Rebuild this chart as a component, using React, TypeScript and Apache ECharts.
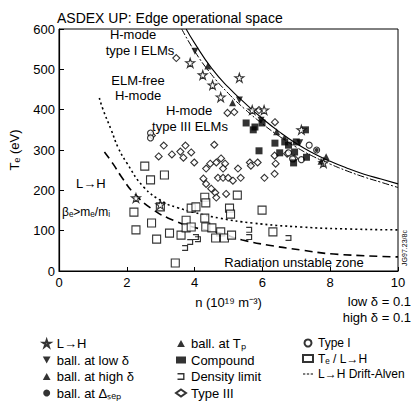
import React, { useEffect, useRef } from "react";
import * as echarts from "echarts";

// ---- data ----
const xTicks = [0, 2, 4, 6, 8, 10];
const yTicks = [0, 100, 200, 300, 400, 500, 600];

const boundaryOuter: [number, number][] = [
  [3.75, 600], [4.0, 565], [4.5, 503], [5.0, 455], [5.5, 415], [6.0, 378], [6.5, 345],
  [7.0, 316], [7.5, 292], [8.0, 272], [8.5, 255], [9.0, 240], [9.5, 228], [10.0, 216],
];
const boundaryInner: [number, number][] = [
  [3.62, 600], [4.0, 545], [4.5, 487], [5.0, 440], [5.5, 400], [6.0, 365], [6.5, 334],
  [7.0, 307], [7.5, 284], [8.0, 265], [8.5, 248], [9.0, 233], [9.5, 220], [10.0, 207],
];
const driftAlfven: [number, number][] = [
  [1.19, 429], [1.3, 400], [1.54, 350], [1.75, 305], [2.0, 268], [2.5, 208], [3.08, 171],
  [3.5, 157], [3.95, 146], [4.74, 131], [5.7, 119], [7.15, 109], [8.6, 104], [10, 102],
];
const betaLimit: [number, number][] = [
  [1.34, 295], [1.6, 265], [1.83, 235], [2.21, 193], [2.79, 151], [3.37, 126], [3.95, 109],
  [4.74, 94], [5.41, 77], [6.19, 64], [7.15, 52], [8.11, 42], [10, 35],
];

const lhPoints: [number, number][] = [
  [3.87, 516], [4.24, 486], [4.53, 461], [4.77, 431], [5.32, 479], [5.7, 399], [6.05, 399],
  [7.15, 350], [2.27, 181], [2.99, 164], [7.8, 268],
];
const ballLowDelta: [number, number][] = [[4.01, 545], [5.32, 424], [5.96, 374], [7.1, 318]];
const ballHighDelta: [number, number][] = [[4.39, 508], [6.42, 345], [7.88, 283]];
const ballSep: [number, number][] = [[6.65, 330], [7.6, 300]];
const ballTp: [number, number][] = [[5.12, 417], [7.73, 272]];
const compound: [number, number][] = [
  [5.52, 367], [5.73, 350], [5.78, 357], [6.37, 317], [6.77, 312], [7.0, 320], [7.27, 350],
  [5.9, 298], [6.51, 293], [6.92, 268], [6.95, 295], [5.99, 367], [6.66, 320], [7.3, 282],
];
const densityLimit: [number, number][] = [
  [3.72, 57], [4.04, 84], [3.87, 72], [5.61, 102], [5.61, 84], [6.77, 82], [4.1, 79],
];
const typeIII: [number, number][] = [
  [2.74, 336], [3.09, 311], [2.94, 284], [3.33, 289], [3.58, 296], [3.73, 311], [3.67, 281],
  [3.9, 294], [3.99, 269], [4.58, 313], [4.46, 266], [4.64, 269], [4.78, 279], [4.9, 266],
  [4.84, 254], [4.34, 254], [4.26, 229], [4.34, 216], [4.49, 204], [4.61, 194], [4.69, 231],
  [4.84, 231], [4.99, 231], [5.13, 224], [5.28, 254], [5.36, 231], [4.64, 182], [4.93, 191],
  [5.63, 269], [5.86, 269], [5.66, 261], [6.06, 231], [6.36, 241], [6.39, 266], [6.36, 286],
  [6.73, 291], [6.94, 279], [3.46, 528], [4.97, 392], [5.17, 394], [5.9, 399], [6.37, 369],
];
const typeI: [number, number][] = [
  [2.7, 342], [2.7, 330], [6.77, 293], [7.38, 312], [6.89, 278], [7.15, 276], [7.6, 300],
];
const teLH: [number, number][] = [
  [2.53, 260], [2.7, 226], [3.11, 238], [2.21, 146], [2.27, 102], [2.73, 119], [2.99, 159],
  [2.88, 79], [3.26, 94], [3.6, 89], [3.75, 126], [3.75, 107], [3.9, 109], [3.9, 156],
  [4.04, 159], [4.3, 183], [4.33, 169], [4.3, 131], [4.33, 109], [4.51, 107], [4.77, 97],
  [4.62, 82], [4.88, 82], [5.09, 89], [5.03, 156], [5.06, 141], [5.26, 188], [5.99, 151],
  [6.31, 97], [3.43, 20],
];

const legendCol1 = ["L→H", "ball. at low δ", "ball. at high δ", "ball. at Δₛₑₚ"];
const legendCol2 = ["ball. at Tₚ", "Compound", "Density limit", "Type III"];
const legendCol3 = ["Type I", "Tₑ / L→H", "L→H Drift-Alven"];

const FONT = "'Liberation Sans', Arial, sans-serif";

const STAR = "path://M5,0 L6.2,3.6 L10,3.6 L6.9,5.8 L8.1,9.5 L5,7.2 L1.9,9.5 L3.1,5.8 L0,3.6 L3.8,3.6 Z";
const DOWN = "path://M0,0 L10,0 L5,9 Z";
const UP = "path://M5,0 L10,9 L0,9 Z";
const BRACKET = "path://M0,0 L10,0 L10,10 L0,10 L0,8 L8,8 L8,2 L0,2 Z";
const DASHES = "path://M0,4 h3 v1.6 h-3 Z M5,4 h3 v1.6 h-3 Z M10,4 h3 v1.6 h-3 Z";

const hollow = { color: "#fff", borderColor: "#000", borderWidth: 1.1 };
const filled = { color: "#000", borderColor: "#000", borderWidth: 0 };

function scatter(name: string, data: [number, number][], symbol: string, size: number, style: any) {
  return {
    name,
    type: "scatter",
    data,
    symbol,
    symbolSize: size,
    itemStyle: style,
    z: 5,
  };
}

export default function App() {
  const ref = useRef<HTMLDivElement>(null);
  useEffect(() => {
    if (!ref.current) return;
    const chart = echarts.init(ref.current, undefined, { renderer: "svg" });
    const legendBase = {
      orient: "vertical",
      itemGap: 3.5,
      itemHeight: 7,
      itemWidth: 10,
      top: 332,
      height: 70,
      selectedMode: false,
      textStyle: { fontSize: 13, fontFamily: FONT, color: "#000" },
    };
    const text = (t: string, x: number, y: number, align: string, size = 13) => ({
      type: "text",
      x,
      y,
      style: { text: t, font: `${size}px ${FONT}`, fill: "#000", textAlign: align, textVerticalAlign: "middle" },
    });
    const option: any = {
      animation: false,
      backgroundColor: "#fff",
      title: {
        text: "ASDEX UP: Edge operational space",
        left: 52,
        top: 6,
        textStyle: { fontSize: 14, fontWeight: "normal", fontFamily: FONT, color: "#000" },
      },
      grid: { left: 54, right: 14, top: 29, bottom: 130, show: true, borderColor: "#000", borderWidth: 1 },
      xAxis: {
        type: "value",
        min: 0,
        max: 10,
        interval: 2,
        name: "n (10¹⁹ m⁻³)",
        nameLocation: "middle",
        nameGap: 25,
        nameTextStyle: { fontSize: 13, fontFamily: FONT, color: "#000" },
        axisLine: { lineStyle: { color: "#000", width: 1.2 } },
        axisTick: { inside: true, length: 4, lineStyle: { color: "#000" } },
        axisLabel: {
          fontSize: 13, fontFamily: FONT, color: "#000", margin: 5,
          formatter: (v: number) => (xTicks.includes(v) ? String(v) : ""),
        },
        splitLine: { show: false },
      },
      yAxis: {
        type: "value",
        min: 0,
        max: 600,
        interval: 100,
        name: "Tₑ (eV)",
        nameLocation: "middle",
        nameGap: 38,
        nameTextStyle: { fontSize: 13, fontFamily: FONT, color: "#000" },
        axisLine: { show: true, lineStyle: { color: "#000", width: 1.2 } },
        axisTick: { show: true, inside: true, length: 5, lineStyle: { color: "#000" } },
        axisLabel: {
          fontSize: 13, fontFamily: FONT, color: "#000", margin: 4,
          formatter: (v: number) => (yTicks.includes(v) ? String(v) : ""),
        },
        splitLine: { show: false },
      },
      legend: [
        { ...legendBase, left: 37, data: legendCol1 },
        { ...legendBase, left: 170, data: legendCol2 },
        {
          ...legendBase,
          left: 297,
          textStyle: { fontSize: 12, fontFamily: FONT, color: "#000" },
          data: legendCol3.map((n) => (n === "L→H Drift-Alven" ? { name: n, icon: DASHES } : n)),
        },
      ],
      series: [
        {
          name: "boundaryOuter", type: "line", data: boundaryOuter, smooth: true, showSymbol: false,
          symbol: "none", lineStyle: { color: "#000", width: 1.1 }, z: 3,
        },
        {
          name: "boundaryInner", type: "line", data: boundaryInner, smooth: true, showSymbol: false,
          symbol: "none", lineStyle: { color: "#000", width: 1, type: [7, 2, 2, 2] }, z: 3,
        },
        {
          name: "L→H Drift-Alven", type: "line", data: driftAlfven, smooth: true, showSymbol: false,
          symbol: "none", itemStyle: { color: "#000" },
          lineStyle: { color: "#000", width: 1.6, type: [2, 3] }, z: 3,
        },
        {
          name: "betaLimit", type: "line", data: betaLimit, smooth: true, showSymbol: false,
          symbol: "none", lineStyle: { color: "#000", width: 1.6, type: [8, 5] }, z: 3,
        },
        scatter("Tₑ / L→H", teLH, "rect", 8, hollow),
        scatter("Type III", typeIII, "diamond", 7, hollow),
        scatter("Type I", typeI, "circle", 6, hollow),
        scatter("Density limit", densityLimit, BRACKET, 6, filled),
        scatter("Compound", compound, "rect", 7, filled),
        scatter("L→H", lhPoints, STAR, 9, hollow),
        scatter("ball. at low δ", ballLowDelta, DOWN, 7, filled),
        scatter("ball. at high δ", ballHighDelta, UP, 7, filled),
        scatter("ball. at Δₛₑₚ", ballSep, "circle", 4, filled),
        scatter("ball. at Tₚ", ballTp, UP, 7, filled),
      ],
      graphic: [
        text("H-mode", 133, 34, "center"),
        text("type I ELMs", 140, 50, "center"),
        text("ELM-free", 138, 80, "center"),
        text("H-mode", 138, 95, "center"),
        text("H-mode", 189, 110, "center"),
        text("type III ELMs", 190, 126, "center"),
        text("L→H", 76, 183, "left"),
        text("βₑ>mₑ/mᵢ", 62, 212, "left", 12),
        text("Radiation unstable zone", 294, 262, "center"),
        text("low δ = 0.1", 411, 301, "right"),
        text("high δ = 0.1", 411, 317, "right"),
        {
          type: "text", x: 404, y: 248, rotation: Math.PI / 2,
          style: { text: "JG97.23/8c", font: `7px ${FONT}`, fill: "#000", textAlign: "center", textVerticalAlign: "middle" },
        },
      ],
    };
    chart.setOption(option);
    return () => chart.dispose();
  }, []);
  return <div ref={ref} style={{ position: "fixed", left: 0, top: 0, width: 412, height: 401, background: "#fff" }} />;
}
